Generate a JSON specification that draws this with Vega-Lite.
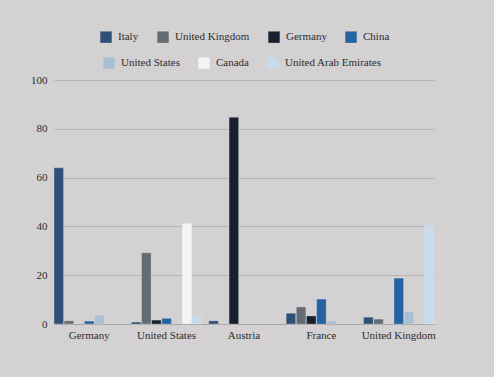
{
  "$schema": "https://vega.github.io/schema/vega-lite/v6.json",
  "autosize": {"type": "none"},
  "width": 380,
  "height": 244,
  "padding": {"left": 54, "top": 80, "right": 60, "bottom": 53},
  "background": "#d3d1d2",
  "config": {"view": {"stroke": null}},
  "data": {
    "values": [
      {"country": "Germany", "series": "Italy", "value": 64},
      {"country": "Germany", "series": "United Kingdom", "value": 1.3},
      {"country": "Germany", "series": "China", "value": 1.2},
      {"country": "Germany", "series": "United States", "value": 3.7},
      {"country": "United States", "series": "Italy", "value": 0.8},
      {"country": "United States", "series": "United Kingdom", "value": 29.2},
      {"country": "United States", "series": "Germany", "value": 1.6},
      {"country": "United States", "series": "China", "value": 2.3},
      {"country": "United States", "series": "Canada", "value": 41.2},
      {"country": "United States", "series": "United Arab Emirates", "value": 3.1},
      {"country": "Austria", "series": "Italy", "value": 1.3},
      {"country": "Austria", "series": "Germany", "value": 84.7},
      {"country": "France", "series": "Italy", "value": 4.4},
      {"country": "France", "series": "United Kingdom", "value": 7.0},
      {"country": "France", "series": "Germany", "value": 3.3},
      {"country": "France", "series": "China", "value": 10.2},
      {"country": "France", "series": "United States", "value": 1.3},
      {"country": "United Kingdom", "series": "Italy", "value": 2.8},
      {"country": "United Kingdom", "series": "United Kingdom", "value": 2.0},
      {"country": "United Kingdom", "series": "China", "value": 18.8},
      {"country": "United Kingdom", "series": "United States", "value": 5.2},
      {"country": "United Kingdom", "series": "United Arab Emirates", "value": 40.4}
    ]
  },
  "encoding": {
    "x": {
      "field": "country",
      "type": "nominal",
      "sort": ["Germany", "United States", "Austria", "France", "United Kingdom"],
      "scale": {"paddingInner": 0.09, "paddingOuter": 0},
      "axis": {
        "title": null,
        "labelAngle": 0,
        "ticks": false,
        "domainColor": "#a8a6a7",
        "labelFont": "Liberation Serif",
        "labelFontSize": 11,
        "labelColor": "#2e2e2e",
        "labelPadding": 5
      }
    },
    "xOffset": {
      "field": "series",
      "type": "nominal",
      "scale": {
        "domain": ["Italy", "United Kingdom", "Germany", "China", "United States", "Canada", "United Arab Emirates"],
        "paddingInner": 0.06,
        "paddingOuter": 0
      }
    },
    "y": {
      "field": "value",
      "type": "quantitative",
      "scale": {"domain": [0, 100], "nice": false},
      "axis": {
        "title": null,
        "values": [0, 20, 40, 60, 80, 100],
        "ticks": false,
        "domain": false,
        "gridColor": "#b6b4b5",
        "labelFont": "Liberation Serif",
        "labelFontSize": 11,
        "labelColor": "#2e2e2e",
        "labelPadding": 7
      }
    }
  },
  "layer": [
    {
      "transform": [{"filter": {"field": "series", "oneOf": ["Italy", "United Kingdom", "Germany", "China"]}}],
      "mark": {"type": "bar", "stroke": "#e6e5e6", "strokeWidth": 0.5, "strokeOpacity": 0.6},
      "encoding": {
        "color": {
          "field": "series",
          "type": "nominal",
          "scale": {
            "domain": ["Italy", "United Kingdom", "Germany", "China"],
            "range": ["#2e5077", "#646b72", "#17202c", "#2563a0"]
          },
          "legend": {
            "title": null,
            "orient": "none",
            "legendX": 46,
            "legendY": -49,
            "direction": "horizontal",
            "symbolType": "square",
            "symbolSize": 130,
            "symbolStrokeWidth": 0,
            "labelFont": "Liberation Serif",
            "labelFontSize": 11,
            "labelColor": "#2e2e2e",
            "labelOffset": 6,
            "columnPadding": 18
          }
        }
      }
    },
    {
      "transform": [{"filter": {"field": "series", "oneOf": ["United States", "Canada", "United Arab Emirates"]}}],
      "mark": {"type": "bar", "stroke": "#e6e5e6", "strokeWidth": 0.5, "strokeOpacity": 0.6},
      "encoding": {
        "color": {
          "field": "series",
          "type": "nominal",
          "scale": {
            "domain": ["United States", "Canada", "United Arab Emirates"],
            "range": ["#a9c0d4", "#f4f3f5", "#c8dbec"]
          },
          "legend": {
            "title": null,
            "orient": "none",
            "legendX": 49,
            "legendY": -23,
            "direction": "horizontal",
            "symbolType": "square",
            "symbolSize": 130,
            "symbolStrokeWidth": 0,
            "labelFont": "Liberation Serif",
            "labelFontSize": 11,
            "labelColor": "#2e2e2e",
            "labelOffset": 6,
            "columnPadding": 18
          }
        }
      }
    }
  ],
  "resolve": {"scale": {"color": "independent"}}
}
